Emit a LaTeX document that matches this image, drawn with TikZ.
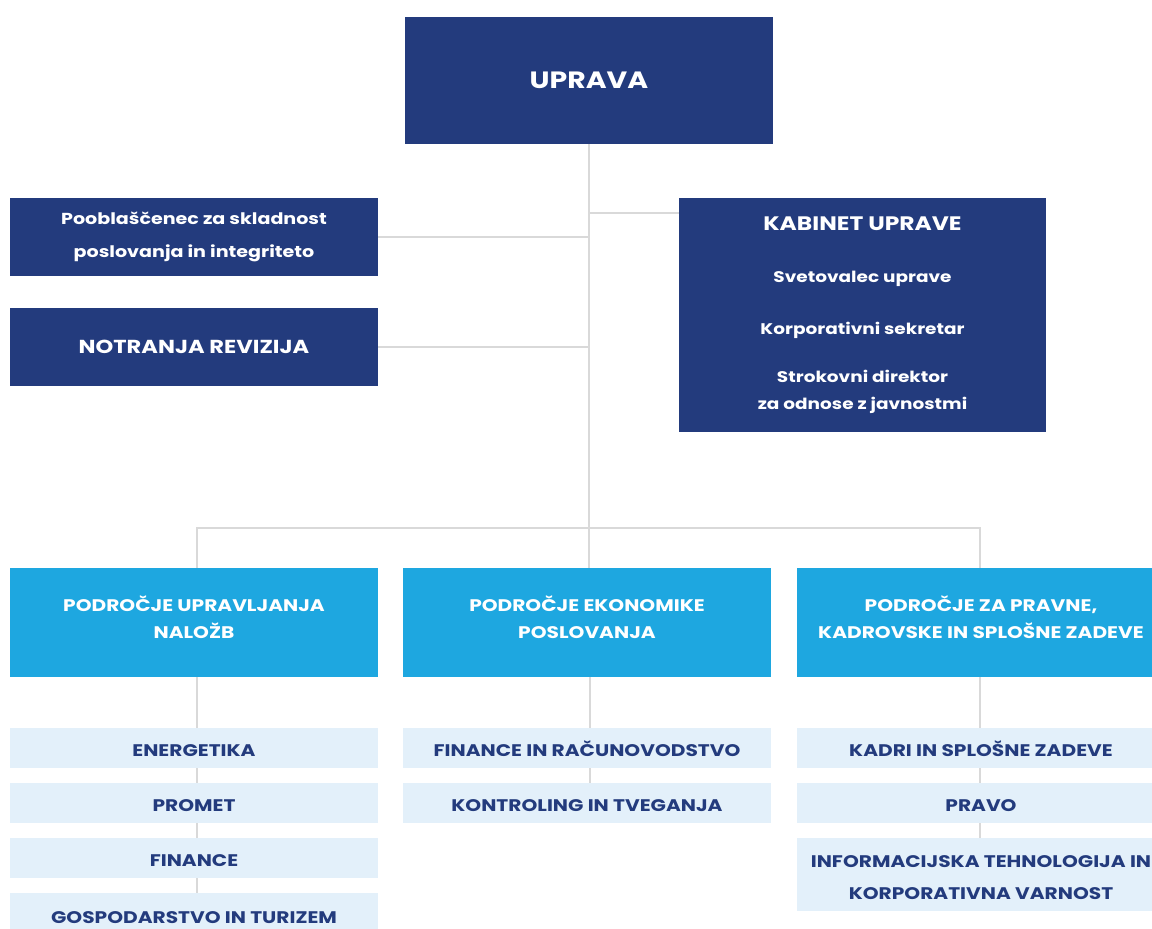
\documentclass[tikz,border=0pt]{standalone}
\usepackage{fontspec}
\setmainfont{Poppins}[FakeStretch=1.2]
\usetikzlibrary{backgrounds}
\definecolor{temnomodra}{HTML}{233B7D}
\definecolor{modra}{HTML}{1EA7E0}
\definecolor{svetla}{HTML}{E3F0FA}
\definecolor{crta}{HTML}{D9D9D9}
\begin{document}
\begin{tikzpicture}[x=1pt,y=-1pt,
  temna/.style={fill=temnomodra,text=white,font=\bfseries,inner sep=0pt,align=center,minimum width=368pt},
  podrocje/.style={fill=modra,text=white,font=\bfseries\fontsize{16.8}{27}\selectfont,inner sep=0pt,align=center,minimum width=368pt,minimum height=109pt,text depth=10pt},
  sluzba/.style={fill=svetla,text=temnomodra,font=\bfseries\fontsize{16.8}{32}\selectfont,inner sep=0pt,align=center,minimum width=368pt,minimum height=40pt,text height=17pt,text depth=0pt},
  veja/.style={draw=crta,line width=1.6pt}]
\useasboundingbox (0,0) rectangle (1152,929);
\node (uprava) at (589,80.5) [temna,minimum height=127pt,font=\bfseries\fontsize{23.6}{28}\selectfont] {UPRAVA};
\node (pooblascenec) at (194,237) [temna,minimum height=78pt,font=\bfseries\fontsize{15.9}{33}\selectfont] {Pooblaščenec za skladnost\\poslovanja in integriteto};
\node (revizija) at (194,347) [temna,minimum height=78pt,font=\bfseries\fontsize{18.8}{22}\selectfont] {NOTRANJA REVIZIJA};
\node (kabinet) at (862.5,315) [temna,minimum width=367pt,minimum height=234pt,font=\bfseries\fontsize{15.4}{27}\selectfont]
  {{\fontsize{19.5}{22}\selectfont KABINET UPRAVE}\\[25pt]Svetovalec uprave\\[25pt]Korporativni sekretar\\[21pt]Strokovni direktor\\za odnose z javnostmi};
\node (podrocje1) at (194,622.5) [podrocje] {PODROČJE UPRAVLJANJA\\NALOŽB};
\node (podrocje2) at (587,622.5) [podrocje] {PODROČJE EKONOMIKE\\POSLOVANJA};
\node (podrocje3) at (981,622.5) [podrocje] {PODROČJE ZA PRAVNE,\\KADROVSKE IN SPLOŠNE ZADEVE};
\node (energetika) at (194,748) [sluzba] {ENERGETIKA};
\node (promet) at (194,803) [sluzba] {PROMET};
\node (finance) at (194,858) [sluzba] {FINANCE};
\node (gospodarstvo) at (194,915) [sluzba,minimum height=44pt] {GOSPODARSTVO IN TURIZEM};
\node (racunovodstvo) at (587,748) [sluzba] {FINANCE IN RAČUNOVODSTVO};
\node (kontroling) at (587,803) [sluzba] {KONTROLING IN TVEGANJA};
\node (kadri) at (981,748) [sluzba] {KADRI IN SPLOŠNE ZADEVE};
\node (pravo) at (981,803) [sluzba] {PRAVO};
\node (it) at (981,874.5) [sluzba,minimum height=73pt,text height=49pt] {INFORMACIJSKA TEHNOLOGIJA IN\\KORPORATIVNA VARNOST};
\begin{scope}[on background layer]
\coordinate (razcep) at (uprava.south |- 0,528);
\coordinate (kv) at ([yshift=-15pt]kabinet.north west);
\draw[veja] (uprava.south) -- (razcep);
\draw[veja] (pooblascenec.east) -- (pooblascenec.east -| uprava.south);
\draw[veja] (revizija.east) -- (revizija.east -| uprava.south);
\draw[veja] (kv) -- (kv -| uprava.south);
\draw[veja] (podrocje1.north -| energetika.north) ++(3,0) |- (razcep) -| ([xshift=-1pt]podrocje3.north);
\draw[veja] (razcep) -- (razcep |- podrocje2.north);
\foreach \a/\b/\d in {podrocje1/gospodarstvo/3,podrocje2/kontroling/3,podrocje3/it/-1}
  \draw[veja] ([xshift=\d pt]\a.south) -- ([xshift=\d pt]\b.north);
\end{scope}
\end{tikzpicture}
\end{document}
